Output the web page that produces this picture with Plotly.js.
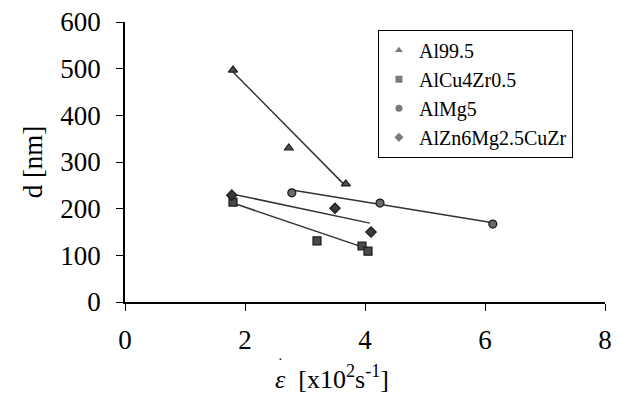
<!DOCTYPE html>
<html><head><meta charset="utf-8">
<script src="https://cdn.plot.ly/plotly-3.0.1.min.js"></script>
<style>
body{margin:0;background:#fff;font-family:"Liberation Serif",serif}
#c{width:622px;height:394px}
#c svg text{font-family:"Liberation Serif","Times New Roman",serif !important}
</style>
</head><body><div id="c"></div>
<script>
// Data
const seriesNames = ["Al99.5", "AlCu4Zr0.5", "AlMg5", "AlZn6Mg2.5CuZr"];
const al995X = [1.8, 2.73, 3.68];
const al995Y = [497, 330, 253];
const alCuX = [1.8, 3.2, 3.95, 4.05];
const alCuY = [214, 131, 120, 109];
const alMgX = [2.78, 4.25, 6.13];
const alMgY = [234, 212, 167];
const alZnX = [1.78, 3.5, 4.1];
const alZnY = [229, 201, 150];
// Trend line end points
const al995TrendX = [1.8, 3.65];
const al995TrendY = [493, 252];
const alCuTrendX = [1.8, 4.0];
const alCuTrendY = [212, 116];
const alMgTrendX = [2.78, 6.08];
const alMgTrendY = [240, 171];
const alZnTrendX = [1.8, 4.08];
const alZnTrendY = [231, 169];
const xTicks = [0, 2, 4, 6, 8];
const yTicks = [0, 100, 200, 300, 400, 500, 600];
const xTitle = "<i>ε</i>  [x10<sup>2</sup>s<sup>-1</sup>]";
const yTitle = "d [nm]";

const fam = "Liberation Serif";
const sets = [
  {x: al995X, y: al995Y, tx: al995TrendX, ty: al995TrendY, sym: "triangle-up", col: "#505050"},
  {x: alCuX, y: alCuY, tx: alCuTrendX, ty: alCuTrendY, sym: "square", col: "#4a4a4a"},
  {x: alMgX, y: alMgY, tx: alMgTrendX, ty: alMgTrendY, sym: "circle", col: "#6a6a6a"},
  {x: alZnX, y: alZnY, tx: alZnTrendX, ty: alZnTrendY, sym: "diamond", col: "#3a3a3a"}
];
const traces = [];
sets.forEach((s) => {
  traces.push({x: s.tx, y: s.ty, mode: "lines", line: {color: "#333", width: 1.5}, showlegend: false, hoverinfo: "skip"});
});
sets.forEach((s, i) => {
  traces.push({x: s.x, y: s.y, mode: "markers", name: seriesNames[i], showlegend: false,
    marker: {symbol: s.sym, size: 8, color: s.col, line: {color: "#1a1a1a", width: 1.2}}});
});
// legend entries (small light-gray symbols, as in the reference legend)
sets.forEach((s, i) => {
  traces.push({x: [null], y: [null], mode: "markers", name: seriesNames[i], showlegend: true,
    marker: {symbol: s.sym, size: 7, color: "#7a7a7a", line: {width: 0}}});
});

const layout = {
  width: 622, height: 394,
  margin: {l: 125, r: 17, t: 22, b: 92},
  paper_bgcolor: "#fff", plot_bgcolor: "#fff",
  font: {family: fam, color: "#000"},
  showlegend: true,
  legend: {x: 0.527, y: 0.972, xanchor: "left", yanchor: "top",
    bordercolor: "#000", borderwidth: 1, bgcolor: "#fff",
    font: {family: fam, size: 20, color: "#000"}, itemwidth: 30, tracegroupgap: 0,
    entrywidth: 194},
  xaxis: {range: [0, 8], tickvals: xTicks, ticktext: xTicks.map(String),
    showline: true, linecolor: "#000", linewidth: 1.5, ticks: "outside", ticklen: 7, tickcolor: "#000",
    ticklabelstandoff: 6,
    showgrid: false, zeroline: false, tickfont: {family: fam, size: 27, color: "#000"}},
  yaxis: {range: [0, 600], tickvals: yTicks, ticktext: yTicks.map(String),
    showline: true, linecolor: "#000", linewidth: 1.5, ticks: "outside", ticklen: 7, tickcolor: "#000",
    ticklabelstandoff: 10,
    showgrid: false, zeroline: false, tickfont: {family: fam, size: 27, color: "#000"},
    title: {text: yTitle, font: {family: fam, size: 27, color: "#000"}, standoff: 10}},
  annotations: [
    {xref: "paper", yref: "paper", x: (273 - 125) / 480, y: (302 - 377) / 280, xanchor: "left", yanchor: "middle",
      text: xTitle, showarrow: false, font: {family: fam, size: 26, color: "#000"}},
    {xref: "paper", yref: "paper", x: (280 - 125) / 480, y: (302 - 359) / 280, xanchor: "center", yanchor: "middle",
      text: "·", showarrow: false, font: {family: fam, size: 14, color: "#000"}}
  ]
};
Plotly.newPlot("c", traces, layout, {displayModeBar: false});
</script></body></html>
